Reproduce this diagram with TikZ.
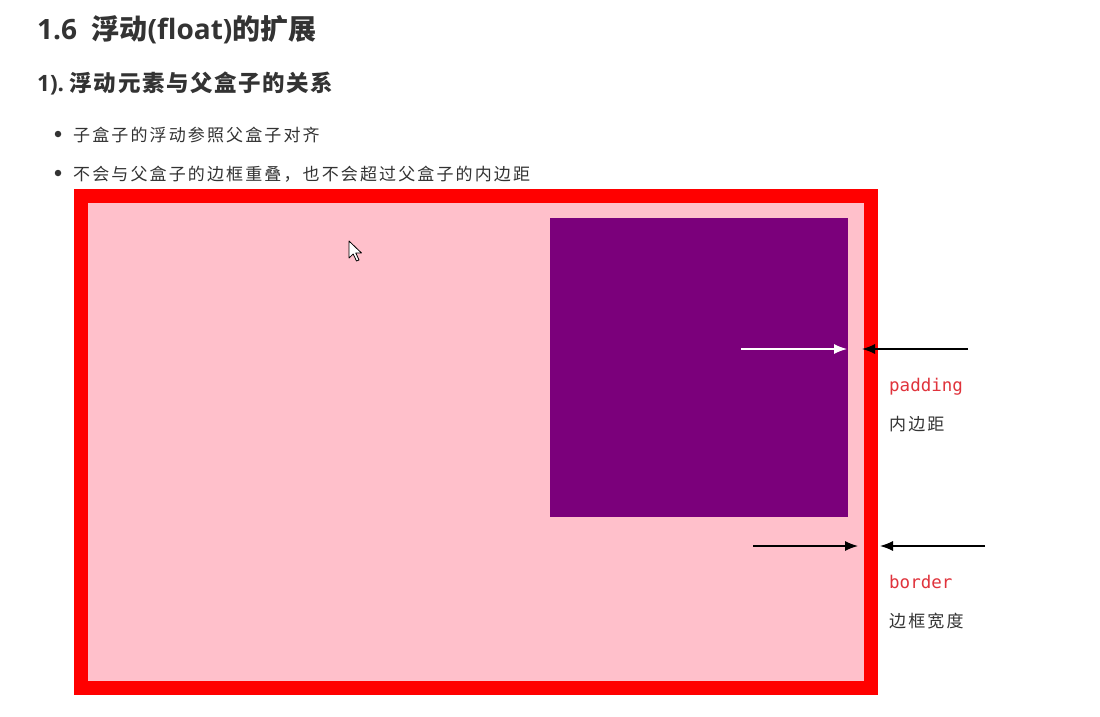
\documentclass[tikz,border=0pt]{standalone}
\usepackage{fontspec}
\setmainfont{Noto Sans CJK SC}
\newfontfamily\cjk{Noto Sans CJK SC}
\newfontfamily\cjksp{Noto Sans CJK SC}[LetterSpace=12.5]
\newfontfamily\lat{Open Sans}
\newfontfamily\codef{DejaVu Sans Mono}
\usetikzlibrary{arrows.meta}
\definecolor{txt}{HTML}{333333}
\definecolor{bordred}{HTML}{FF0000}
\definecolor{pinkbg}{HTML}{FFC0CB}
\definecolor{purp}{HTML}{7B007B}
\definecolor{codered}{HTML}{E0333C}
\tikzset{
  box/.style={inner sep=0pt, outer sep=0pt, draw=none},
  lbl/.style={inner sep=0pt, anchor=base west, text=txt},
  arr/.style={line width=1.3pt, -{Latex[length=13pt,width=10pt]}},
  bul/.style={circle, fill=txt, inner sep=0pt, minimum size=6.5pt},
}
\begin{document}
\begin{tikzpicture}[x=1pt,y=-1pt]
\useasboundingbox (0,0) rectangle (1100,717);
\fill[white] (0,0) rectangle (1100,717);
% headings
\node[lbl] (h1) at (37,40) {\fontsize{28}{32}\selectfont\bfseries{\lat 1.6\ \ }{\cjk 浮动}{\lat (float)}{\cjk 的扩展}};
\node[lbl] (h2) at (37,92) {\fontsize{22.5}{26}\selectfont\bfseries{\lat 1).\ }{\cjk\addfontfeatures{LetterSpace=7} 浮动元素与父盒子的关系}};
% bullets
\node[bul] (b1) at (58,134) {};
\node[bul] (b2) at (58,173) {};
\node[lbl] (t1) at (73,141.5) {\fontsize{17}{20}\selectfont\cjksp 子盒子的浮动参照父盒子对齐};
\node[lbl] (t2) at (73,180.5) {\fontsize{17}{20}\selectfont\cjksp 不会与父盒子的边框重叠，也不会超过父盒子的内边距};
% boxes
\node[box, fill=bordred, minimum width=804pt, minimum height=506pt] (outer) at (476,442) {};
\node[box, fill=pinkbg, minimum width=776pt, minimum height=478pt] (inner) at (476,442) {};
\node[box, fill=purp, minimum width=298pt, minimum height=299pt] (child) at (699,367.5) {};
% cursor
\filldraw[fill=white, draw=black, line width=0.8pt, line join=round]
  (349,241) -- (349,258) -- (353.2,254) -- (356.5,261) -- (359,260) -- (355.8,253) -- (361.5,253) -- cycle;
% arrows
\coordinate (w1) at (741,349);
\coordinate (w2) at (847,349);
\coordinate (p1) at (968,349);
\coordinate (p2) at (862,349);
\coordinate (q1) at (753,546);
\coordinate (q2) at (858,546);
\coordinate (r1) at (985,546);
\coordinate (r2) at (880,546);
\draw[arr, white] (w1) -- (w2);
\draw[arr, black] (p1) -- (p2);
\draw[arr, black] (q1) -- (q2);
\draw[arr, black] (r1) -- (r2);
% labels
\node[lbl, text=codered] (pad) at (889,391) {\fontsize{17.5}{20}\selectfont\codef padding};
\node[lbl] (padz) at (889,430.5) {\fontsize{17}{20}\selectfont\cjksp 内边距};
\node[lbl, text=codered] (bor) at (889,588) {\fontsize{17.5}{20}\selectfont\codef border};
\node[lbl] (borz) at (889,627.5) {\fontsize{17}{20}\selectfont\cjksp 边框宽度};
\end{tikzpicture}
\end{document}
